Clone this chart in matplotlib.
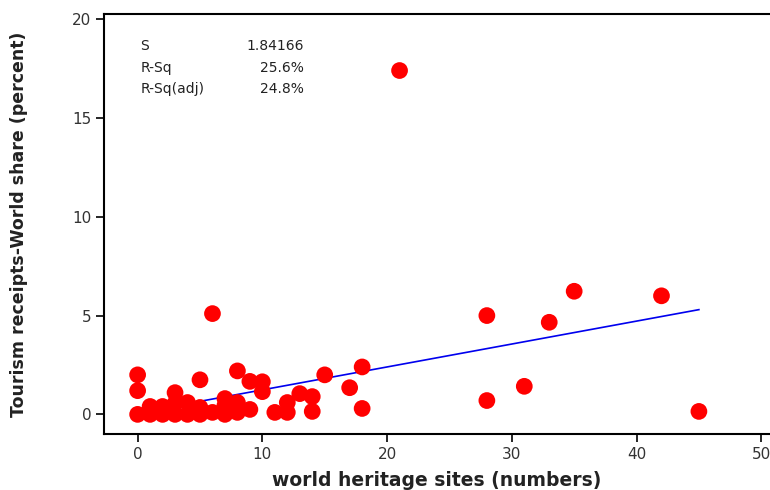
"""Fitted line plot: tourism receipts world share vs world heritage sites."""
import matplotlib
matplotlib.use("Agg")
import matplotlib.pyplot as plt
import numpy as np

# data
sites = [0, 0, 0, 1, 1, 2, 2, 3, 3, 3, 4, 4, 5, 5, 5, 6, 6,
         7, 7, 7, 8, 8, 8, 9, 9, 10, 10, 11, 12, 12, 13, 14, 14,
         15, 17, 18, 18, 21, 28, 28, 31, 33, 35, 42, 45]
share = [2.0, 1.2, 0.0, 0.4, 0.0, 0.4, 0.0, 1.1, 0.55, 0.0, 0.6, 0.0, 1.75, 0.35, 0.0, 5.1, 0.1,
         0.8, 0.45, 0.0, 2.2, 0.6, 0.1, 1.67, 0.25, 1.65, 1.15, 0.1, 0.6, 0.1, 1.05, 0.9, 0.15,
         2.0, 1.35, 2.4, 0.3, 17.4, 5.0, 0.7, 1.42, 4.66, 6.23, 6.0, 0.15]

fit_intercept = 0.08
fit_slope = 0.116
stats_labels = ["S", "R-Sq", "R-Sq(adj)"]
stats_values = ["1.84166", "25.6%", "24.8%"]

fig = plt.figure(figsize=(7.7, 4.9), dpi=100)
ax = fig.add_axes([0.135, 0.114, 0.865, 0.857])

xs = np.array(sorted(set(sites)), dtype=float)
ax.plot(xs, fit_intercept + fit_slope * xs, color="#0000ee", linewidth=1.2, zorder=2)
ax.scatter(sites, share, s=145, color="#ff0000", edgecolors="none", zorder=3)

ax.set_xlim(-2.7, 50.7)
ax.set_ylim(-1.0, 20.25)
ax.set_xticks([0, 10, 20, 30, 40, 50])
ax.set_yticks([0, 5, 10, 15, 20])
ax.tick_params(direction="out", length=6, width=1.2, labelsize=11,
               labelcolor="#333333", pad=3)
for side in ("left", "bottom", "top"):
    ax.spines[side].set_linewidth(1.5)
ax.spines["right"].set_visible(False)

ax.set_xlabel("world heritage sites (numbers)", fontsize=13.5,
              fontweight="bold", color="#222222", labelpad=7)
ax.set_ylabel("Tourism receipts-World share (percent)", fontsize=12.5,
              fontweight="bold", color="#222222", labelpad=32)

for i, (lab, val) in enumerate(zip(stats_labels, stats_values)):
    y = 0.925 - i * 0.052
    ax.text(0.055, y, lab, transform=ax.transAxes, fontsize=10,
            color="#222222", va="center", ha="left")
    ax.text(0.3, y, val, transform=ax.transAxes, fontsize=10,
            color="#222222", va="center", ha="right")

fig.savefig("out.png", dpi=100)
